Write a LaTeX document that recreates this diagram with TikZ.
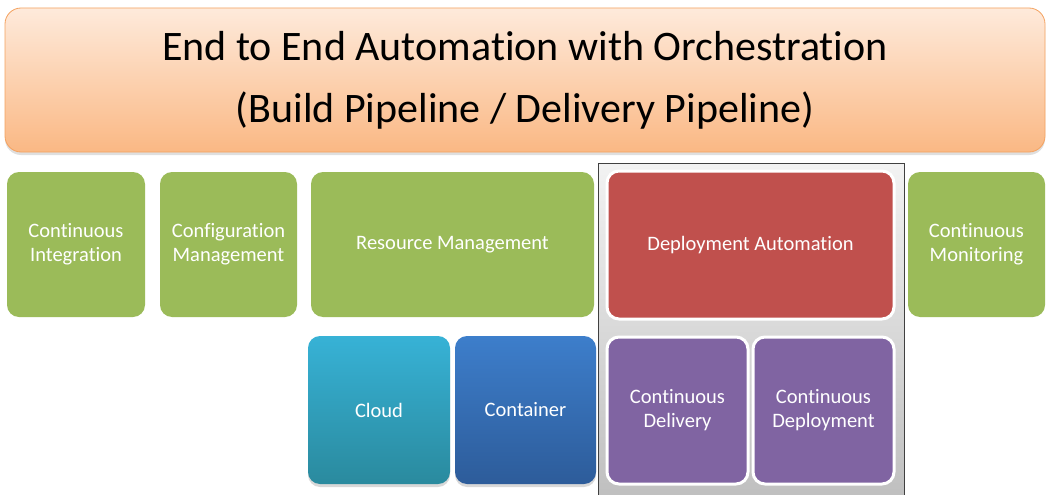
\documentclass[tikz,border=0pt]{standalone}
\usepackage{fontspec}
\setmainfont{Carlito}[Ligatures={NoCommon,NoRare}]
\usetikzlibrary{shadows}
\definecolor{ogreen}{HTML}{9BBB59}
\definecolor{ored}{HTML}{C0504D}
\definecolor{opurple}{HTML}{8064A2}
\definecolor{otop}{HTML}{FEEADB}
\definecolor{obot}{HTML}{FAB884}
\definecolor{oline}{HTML}{F4A260}
\definecolor{cloudtop}{HTML}{37B2D6}
\definecolor{cloudbot}{HTML}{2A8A9E}
\definecolor{conttop}{HTML}{3D7ECB}
\definecolor{contbot}{HTML}{2D5C9A}
\tikzset{
  box/.style={rectangle, rounded corners=12pt, inner sep=0pt, align=center,
    text=white, font=\fontsize{20.5}{24}\selectfont},
  greenbox/.style={box, fill=ogreen},
  whitebox/.style={box, draw=white, line width=3pt},
}
\begin{document}
\begin{tikzpicture}[x=1pt,y=-1pt]
\useasboundingbox[fill=white] (0,0) rectangle (1047,495);
% banner
\node[rectangle, rounded corners=16pt, draw=oline, line width=0.8pt,
  top color=otop, bottom color=obot, drop shadow={opacity=0.25, shadow xshift=0pt, shadow yshift=-3pt},
  minimum width=1040pt, minimum height=144pt, align=center,
  font=\fontsize{42}{62}\selectfont] (banner) at (525,80)
  {End to End Automation with Orchestration\\(Build Pipeline / Delivery Pipeline)};
% gray panel
\node[rectangle, draw=black!75, line width=0.8pt, top color=white!95!black, bottom color=white!75!black,
  minimum width=306pt, minimum height=334pt, inner sep=0pt] (panel) at (751,330) {};
% green row
\node[greenbox, minimum width=138pt, minimum height=145pt] (ci) at (76,244.5) {Continuous\\Integration};
\node[greenbox, minimum width=137pt, minimum height=145pt] (cm) at (228.5,244.5) {Configuration\\Management};
\node[greenbox, minimum width=283pt, minimum height=145pt] (rm) at (452.5,244.5) {Resource Management};
\node[greenbox, minimum width=137pt, minimum height=145pt] (mon) at (976.5,244.5) {Continuous\\Monitoring};
% deployment
\node[whitebox, fill=ored, minimum width=287pt, minimum height=148pt] (da) at (750.5,245) {Deployment Automation};
\node[whitebox, fill=opurple, minimum width=141pt, minimum height=147pt] (cdl) at (677.5,410.5) {Continuous\\Delivery};
\node[whitebox, fill=opurple, minimum width=141pt, minimum height=147pt] (cdp) at (823.5,410.5) {Continuous\\Deployment};
% cloud and container
\node[box, top color=cloudtop, bottom color=cloudbot, drop shadow={opacity=0.3, shadow xshift=0pt, shadow yshift=-3pt},
  minimum width=142pt, minimum height=148pt] (cloud) at (379,410) {Cloud};
\node[box, top color=conttop, bottom color=contbot, drop shadow={opacity=0.3, shadow xshift=0pt, shadow yshift=-3pt},
  minimum width=141pt, minimum height=148pt] (cont) at (525.5,410) {Container};
\end{tikzpicture}
\end{document}
